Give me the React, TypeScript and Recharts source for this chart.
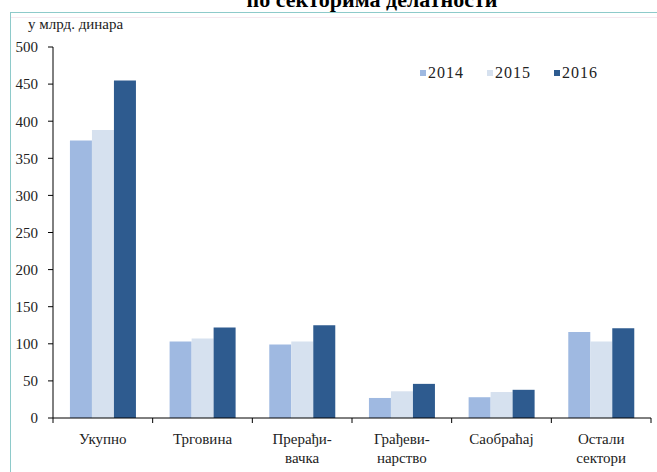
import React from "react";
import { Bar, BarChart, XAxis, YAxis, Legend } from "recharts";

// вредности очитане са графикона, у млрд. динара
const categories = ["Укупно", "Трговина", "Прерађи-\nвачка", "Грађеви-\nнарство", "Саобраћај", "Остали\nсектори"];
const values2014 = [374, 103, 99, 27, 28, 116];
const values2015 = [388, 107, 103, 36, 35, 103];
const values2016 = [455, 122, 125, 46, 38, 121];
const yTicks = [0, 50, 100, 150, 200, 250, 300, 350, 400, 450, 500];

const series = [
  { key: "2014", color: "#9fb9e1" },
  { key: "2015", color: "#d6e1ef" },
  { key: "2016", color: "#2e5b8f" },
];

const data = categories.map((name, i) => ({
  name,
  "2014": values2014[i],
  "2015": values2015[i],
  "2016": values2016[i],
}));

const FONT = "'Liberation Serif', 'Times New Roman', serif";

function CategoryTick(props: any) {
  const { x, y, payload, index, width, visibleTicksCount } = props;
  const count = visibleTicksCount || categories.length;
  const band = width / count;
  const lines = String(payload.value).split("\n");
  return (
    <g>
      <line x1={x - band / 2} x2={x - band / 2} y1={y} y2={y + 5} stroke="#000" />
      {index === count - 1 && <line x1={x + band / 2} x2={x + band / 2} y1={y} y2={y + 5} stroke="#000" />}
      <text x={x} y={y + 26} textAnchor="middle" style={{ fontFamily: FONT }} fontSize={15} fill="#222">
        {lines.map((l, i) => (
          <tspan key={i} x={x} dy={i === 0 ? 0 : 18.5}>
            {l}
          </tspan>
        ))}
      </text>
    </g>
  );
}

function LegendBox() {
  return (
    <div style={{ display: "flex", fontFamily: FONT, fontSize: 16, color: "#222", lineHeight: "16px" }}>
      {series.map((s) => (
        <div key={s.key} style={{ display: "flex", alignItems: "center", marginRight: 23 }}>
          <span style={{ width: 6, height: 6, background: s.color, marginRight: 2, display: "inline-block" }} />
          <span style={{ letterSpacing: 1 }}>{s.key}</span>
        </div>
      ))}
    </div>
  );
}

export default function App() {
  return (
    <div style={{ position: "fixed", left: 0, top: 0, width: 657, height: 472, overflow: "hidden", background: "#fff" }}>
      <div
        style={{
          position: "absolute",
          left: 10,
          top: 12,
          width: 660,
          height: 480,
          border: "1px solid #8ecaca",
          boxSizing: "border-box",
        }}
      />
      <div style={{ position: "absolute", left: 11, top: 17, width: 646, height: 1, background: "#f6e9f0" }} />
      <svg width={657} height={40} style={{ position: "absolute", left: 0, top: 0, fontFamily: FONT }}>
        <text x={372} y={7} textAnchor="middle" fontWeight="bold" fontSize={22} fill="#000">
          по секторима делатности
        </text>
        <text x={28} y={29} fontSize={15} fill="#222">
          у млрд. динара
        </text>
      </svg>
      <div style={{ position: "absolute", left: 0, top: 0, fontFamily: FONT }}>
        <BarChart
          width={657}
          height={472}
          data={data}
          margin={{ top: 47, right: 6, bottom: 0, left: 0 }}
          barCategoryGap="17%"
          barGap={0}
          style={{ fontFamily: FONT }}
        >
          <XAxis
            dataKey="name"
            height={54}
            interval={0}
            tickLine={false}
            tickSize={0}
            tickMargin={0}
            axisLine={{ stroke: "#000" }}
            tick={<CategoryTick />}
          />
          <YAxis
            width={53}
            domain={[0, 500]}
            ticks={yTicks}
            interval={0}
            tickSize={5}
            tickMargin={10}
            axisLine={{ stroke: "#000" }}
            tickLine={{ stroke: "#000" }}
            tick={{ fontSize: 15, fill: "#222", style: { fontFamily: FONT } }}
          />
          <Legend
            layout="horizontal"
            verticalAlign="middle"
            align="center"
            content={<LegendBox />}
            wrapperStyle={{ position: "absolute", top: 65, left: 420, width: "auto", height: "auto" }}
          />
          {series.map((s) => (
            <Bar key={s.key} dataKey={s.key} fill={s.color} isAnimationActive={false} />
          ))}
        </BarChart>
      </div>
    </div>
  );
}
